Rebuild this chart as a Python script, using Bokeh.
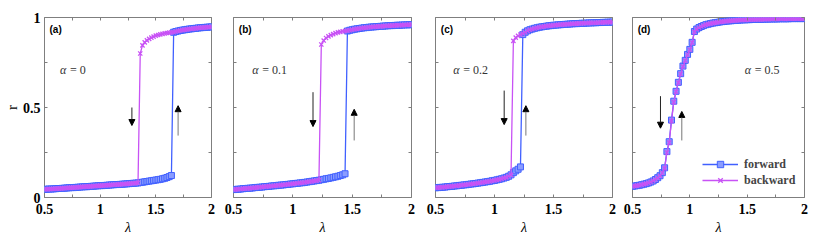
import numpy as np
from bokeh.plotting import figure
from bokeh.models import (Range1d, FixedTicker, CustomJSTickFormatter, LinearAxis,
                          Label, Arrow, NormalHead, Legend, LegendItem)
from bokeh.layouts import row
from bokeh.embed import file_html
from bokeh.resources import INLINE

# ---------------- data ----------------
lam = [0.50, 0.52, 0.54, 0.56, 0.58, 0.60, 0.62, 0.64, 0.66, 0.68,
       0.70, 0.72, 0.74, 0.76, 0.78, 0.80, 0.82, 0.84, 0.86, 0.88,
       0.90, 0.92, 0.94, 0.96, 0.98, 1.00, 1.02, 1.04, 1.06, 1.08,
       1.10, 1.12, 1.14, 1.16, 1.18, 1.20, 1.22, 1.24, 1.26, 1.28,
       1.30, 1.32, 1.34, 1.36, 1.38, 1.40, 1.42, 1.44, 1.46, 1.48,
       1.50, 1.52, 1.54, 1.56, 1.58, 1.60, 1.62, 1.64, 1.66, 1.68,
       1.70, 1.72, 1.74, 1.76, 1.78, 1.80, 1.82, 1.84, 1.86, 1.88,
       1.90, 1.92, 1.94, 1.96, 1.98, 2.00]

# (a) alpha = 0
fwd_a = [.045, .046, .047, .047, .048, .049, .050, .050, .051, .052,
         .053, .054, .055, .055, .056, .057, .058, .059, .060, .060,
         .061, .062, .063, .064, .065, .066, .066, .067, .068, .069,
         .070, .071, .072, .072, .073, .074, .075, .076, .077, .078,
         .079, .080, .081, .083, .085, .087, .089, .091, .093, .095,
         .097, .099, .101, .104, .107, .111, .116, .122, .918, .922,
         .925, .928, .930, .932, .934, .936, .937, .939, .940, .942,
         .943, .944, .945, .946, .947, .948]
bwd_a = [.045, .046, .047, .047, .048, .049, .050, .050, .051, .052,
         .053, .054, .055, .055, .056, .057, .058, .059, .060, .060,
         .061, .062, .063, .064, .065, .066, .066, .067, .068, .069,
         .070, .071, .072, .072, .073, .074, .075, .076, .077, .078,
         .079, .080, .081, .800, .845, .862, .873, .881, .888, .894,
         .899, .903, .906, .909, .912, .914, .916, .917, .918, .922,
         .925, .928, .930, .932, .934, .936, .937, .939, .940, .942,
         .943, .944, .945, .946, .947, .948]

# (b) alpha = 0.1
fwd_b = [.044, .045, .046, .047, .049, .050, .051, .052, .053, .055,
         .056, .057, .058, .060, .061, .062, .064, .065, .066, .068,
         .069, .070, .072, .073, .075, .076, .078, .079, .081, .082,
         .084, .086, .088, .090, .092, .094, .096, .099, .101, .104,
         .106, .109, .112, .115, .118, .122, .126, .132, .925, .929,
         .932, .935, .937, .939, .941, .943, .944, .946, .947, .948,
         .949, .950, .951, .952, .953, .954, .955, .955, .956, .957,
         .957, .958, .959, .959, .960, .960]
bwd_b = [.044, .045, .046, .047, .049, .050, .051, .052, .053, .055,
         .056, .057, .058, .060, .061, .062, .064, .065, .066, .068,
         .069, .070, .072, .073, .075, .076, .078, .079, .081, .082,
         .084, .086, .088, .090, .092, .094, .096, .850, .872, .886,
         .895, .902, .908, .913, .917, .920, .923, .925, .927, .929,
         .932, .935, .937, .939, .941, .943, .944, .946, .947, .948,
         .949, .950, .951, .952, .953, .954, .955, .955, .956, .957,
         .957, .958, .959, .959, .960, .960]

# (c) alpha = 0.2
fwd_c = [.054, .055, .056, .057, .058, .060, .061, .062, .064, .065,
         .067, .068, .070, .071, .073, .075, .076, .078, .080, .082,
         .084, .086, .088, .090, .093, .095, .098, .101, .104, .108,
         .112, .118, .126, .138, .148, .157, .170, .905, .918, .926,
         .932, .936, .940, .943, .946, .948, .950, .952, .954, .955,
         .957, .958, .959, .960, .961, .962, .963, .964, .965, .966,
         .966, .967, .968, .968, .969, .970, .970, .971, .971, .972,
         .972, .973, .973, .974, .974, .975]
bwd_c = [.054, .055, .056, .057, .058, .060, .061, .062, .064, .065,
         .067, .068, .070, .071, .073, .075, .076, .078, .080, .082,
         .084, .086, .088, .090, .093, .095, .098, .101, .104, .108,
         .112, .118, .126, .870, .888, .898, .905, .911, .918, .926,
         .932, .936, .940, .943, .946, .948, .950, .952, .954, .955,
         .957, .958, .959, .960, .961, .962, .963, .964, .965, .966,
         .966, .967, .968, .968, .969, .970, .970, .971, .971, .972,
         .972, .973, .973, .974, .974, .975]

# (d) alpha = 0.5
fwd_d = [.062, .064, .066, .068, .071, .074, .077, .081, .086, .092,
         .100, .110, .121, .138, .165, .255, .310, .430, .535, .590,
         .640, .688, .730, .762, .795, .823, .862, .922, .936, .944,
         .950, .955, .960, .963, .966, .969, .971, .973, .975, .977,
         .978, .980, .981, .982, .983, .984, .985, .986, .987, .987,
         .988, .988, .989, .989, .990, .990, .990, .991, .991, .991,
         .992, .992, .992, .992, .993, .993, .993, .993, .993, .994,
         .994, .994, .994, .994, .994, .994]
bwd_d = [.062, .064, .066, .068, .071, .074, .077, .081, .086, .092,
         .100, .109, .120, .136, .162, .250, .305, .425, .530, .588,
         .638, .686, .728, .760, .793, .821, .860, .920, .935, .943,
         .950, .955, .960, .963, .966, .969, .971, .973, .975, .977,
         .978, .980, .981, .982, .983, .984, .985, .986, .987, .987,
         .988, .988, .989, .989, .990, .990, .990, .991, .991, .991,
         .992, .992, .992, .992, .993, .993, .993, .993, .993, .994,
         .994, .994, .994, .994, .994, .994]

panel_tags = ["(a)", "(b)", "(c)", "(d)"]
alpha_vals = ["0", "0.1", "0.2", "0.5"]
x_ticks = [0.5, 1, 1.5, 2]
x_minor = [0.75, 1.25, 1.75]
y_ticks = [0, 0.5, 1]
y_minor = [0.25, 0.75]
series_names = ["forward", "backward"]

# ---------------- layout / style ----------------
BLUE = "#4060ff"
BLUE_FILL = "#8a9cff"
MAG = "#c852f5"
GREY = "#7f7f7f"
SERIF = "Liberation Serif"

widths = [222, 201, 199, 208]
lefts = [39, 11, 12, 10]
rights = [11, 12, 10, 26]
alpha_pos = [(0.64, 0.706), (0.658, 0.706), (0.65, 0.706), (1.479, 0.711)]
arrows = [((1.285, 0.50, 0.40), (1.70, 0.344, 0.51)),
          ((1.17, 0.585, 0.394), (1.517, 0.317, 0.49)),
          ((1.082, 0.594, 0.405), (1.266, 0.344, 0.51)),
          ((0.744, 0.563, 0.385), (0.93, 0.317, 0.478))]
data = [(fwd_a, bwd_a), (fwd_b, bwd_b), (fwd_c, bwd_c), (fwd_d, bwd_d)]

fmt_plain = CustomJSTickFormatter(code="return String(tick);")
fmt_empty = CustomJSTickFormatter(code="return '';")


def style_axis(ax, labels):
    ax.axis_line_color = None
    ax.major_tick_in = 3
    ax.major_tick_out = 0
    ax.minor_tick_in = 3
    ax.minor_tick_out = 0
    ax.major_tick_line_color = GREY
    ax.minor_tick_line_color = GREY
    if labels:
        ax.major_label_text_font = SERIF
        ax.major_label_text_font_style = "bold"
        ax.major_label_text_font_size = "14px"
        ax.major_label_text_color = "black"
    else:
        ax.formatter = fmt_empty
        ax.major_label_standoff = 0
        ax.major_label_text_font_size = "1px"


figs = []
for i in range(4):
    p = figure(width=widths[i], height=244, x_range=Range1d(0.5, 2), y_range=Range1d(0, 1),
               output_backend="svg", toolbar_location=None,
               min_border_left=lefts[i], min_border_right=rights[i],
               min_border_top=17, min_border_bottom=47)
    p.xgrid.visible = False
    p.ygrid.visible = False
    p.outline_line_color = GREY
    p.outline_line_width = 1
    p.background_fill_color = "white"
    p.border_fill_color = "white"

    xa = p.below[0]
    xa.ticker = FixedTicker(ticks=x_ticks, minor_ticks=x_minor)
    xa.formatter = fmt_plain
    style_axis(xa, True)
    xa.major_label_standoff = 6
    xa.axis_label = "λ"
    xa.axis_label_text_font = SERIF
    xa.axis_label_text_font_style = "italic"
    xa.axis_label_text_font_size = "14px"
    xa.axis_label_text_color = "black"
    xa.axis_label_standoff = 3

    ya = p.left[0]
    ya.ticker = FixedTicker(ticks=y_ticks, minor_ticks=y_minor)
    if i == 0:
        ya.formatter = fmt_plain
        style_axis(ya, True)
        ya.major_label_standoff = 4
        ya.axis_label = "r"
        ya.axis_label_text_font = SERIF
        ya.axis_label_text_font_style = "normal"
        ya.axis_label_text_font_size = "15px"
        ya.axis_label_text_color = "black"
        ya.axis_label_standoff = 0
    else:
        style_axis(ya, False)

    top = LinearAxis(ticker=FixedTicker(ticks=x_ticks, minor_ticks=x_minor))
    style_axis(top, False)
    p.add_layout(top, "above")
    right = LinearAxis(ticker=FixedTicker(ticks=y_ticks, minor_ticks=y_minor))
    style_axis(right, False)
    p.add_layout(right, "right")

    fwd, bwd = data[i]
    lf = p.line(lam, fwd, line_color=BLUE, line_width=1.3)
    sf = p.scatter(lam, fwd, marker="square", size=6, line_color=BLUE, fill_color=BLUE_FILL,
                   line_width=1)
    lb = p.line(lam, bwd, line_color=MAG, line_width=1.3)
    sb = p.scatter(lam, bwd, marker="x", size=6, line_color=MAG, line_width=1.3)

    # arrows
    (dx, dy0, dy1), (ux, uy0, uy1) = arrows[i]
    p.add_layout(Arrow(end=NormalHead(size=6, fill_color="black", line_color="black", line_width=1),
                       x_start=dx, y_start=dy0, x_end=dx, y_end=dy1,
                       line_color="#222222", line_width=1))
    p.add_layout(Arrow(end=NormalHead(size=6, fill_color="black", line_color="black", line_width=1),
                       x_start=ux, y_start=uy0, x_end=ux, y_end=uy1,
                       line_color="#777777", line_width=1))

    # panel tag
    p.add_layout(Label(x=0.545, y=0.933, text=panel_tags[i], text_font="Liberation Sans",
                       text_font_style="bold", text_font_size="10px",
                       text_baseline="middle", text_align="left", text_color="black"))
    # alpha text
    ax_, ay_ = alpha_pos[i]
    p.add_layout(Label(x=ax_, y=ay_, text="α", text_font=SERIF, text_font_style="italic",
                       text_font_size="12px", text_baseline="middle", text_align="left",
                       text_color="#333333"))
    p.add_layout(Label(x=ax_, y=ay_, x_offset=10, text="= " + alpha_vals[i], text_font=SERIF,
                       text_font_size="12px", text_baseline="middle", text_align="left",
                       text_color="#333333"))

    if i == 3:
        leg = Legend(items=[LegendItem(label=series_names[0], renderers=[lf, sf]),
                            LegendItem(label=series_names[1], renderers=[lb, sb])],
                     location=(70, 9), padding=0, margin=0, spacing=0,
                     border_line_color=None, background_fill_alpha=0,
                     glyph_width=36, glyph_height=16, label_height=16,
                     label_standoff=6, label_text_font=SERIF,
                     label_text_font_style="bold", label_text_font_size="12px")
        p.add_layout(leg)
    figs.append(p)

layout = row(figs)
open("out.html", "w").write(file_html(layout, INLINE))
